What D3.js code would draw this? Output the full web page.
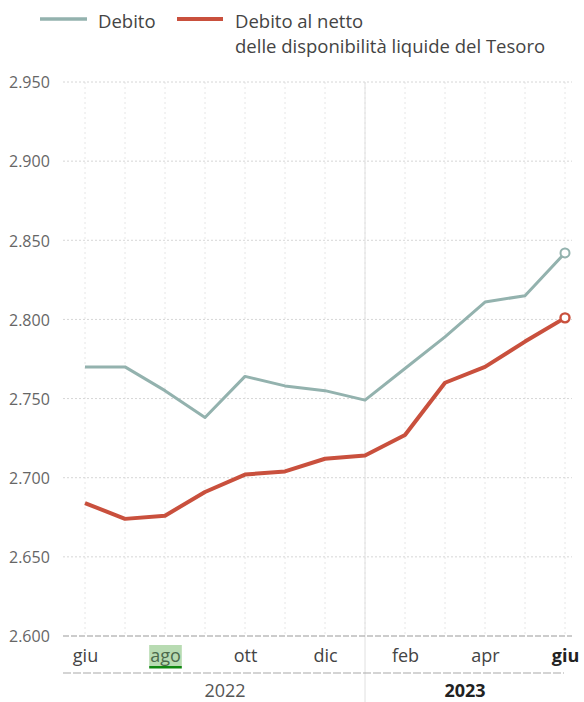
<!DOCTYPE html>
<html><head><meta charset="utf-8">
<script src="https://cdn.jsdelivr.net/npm/d3@7"></script>
<style>
html,body{margin:0;padding:0;background:#fff;}
svg{display:block;font-family:"Open Sans",sans-serif;}
</style></head>
<body><svg id="c" width="584" height="702"></svg>
<script>
// ---- data ----
const monthKeys = ["2022-06","2022-07","2022-08","2022-09","2022-10","2022-11","2022-12","2023-01","2023-02","2023-03","2023-04","2023-05","2023-06"];
const monthLabels = ["giu","lug","ago","set","ott","nov","dic","gen","feb","mar","apr","mag","giu"];
const labelledKeys = ["2022-06","2022-08","2022-10","2022-12","2023-02","2023-04","2023-06"];
const debito = [2770, 2770, 2755, 2738, 2764, 2758, 2755, 2749, 2769, 2789, 2811, 2815, 2842];
const debitoNetto = [2684, 2674, 2676, 2691, 2702, 2704, 2712, 2714, 2727, 2760, 2770, 2786, 2801];
const yTicks = [2600, 2650, 2700, 2750, 2800, 2850, 2900, 2950];
const years = [{label:"2022", from:"2022-06", to:"2023-01", bold:false},{label:"2023", from:"2023-01", to:"2023-06", bold:true}];
const legendItems = ["Debito", ["Debito al netto","delle disponibilità liquide del Tesoro"]];

const colBlue = "#93b2ae", colRed = "#c9503d";
const svg = d3.select("#c");
const it = d3.formatLocale({decimal:",",thousands:".",grouping:[3],currency:["€",""]});
const fmt = it.format(",d");

const x = d3.scalePoint().domain(monthKeys).range([85, 565]);
const y = d3.scaleLinear().domain([2600, 2950]).range([636, 82]);
const left = 63, right = 572;

// vertical grid
svg.append("g").selectAll("line").data(monthKeys).join("line")
  .attr("x1", d=>x(d)).attr("x2", d=>x(d)).attr("y1", y(2950)).attr("y2", y(2600))
  .attr("stroke", "#e6e6e6").attr("stroke-width", 1).attr("stroke-dasharray", "2,3");
// horizontal grid
svg.append("g").selectAll("line").data(yTicks.filter(d=>d>2600)).join("line")
  .attr("x1", left).attr("x2", right).attr("y1", d=>y(d)).attr("y2", d=>y(d))
  .attr("stroke", "#d6d6d6").attr("stroke-width", 1).attr("stroke-dasharray", "2,2");
// year separator
svg.append("line").attr("x1", x("2023-01")).attr("x2", x("2023-01")).attr("y1", y(2950)).attr("y2", 702)
  .attr("stroke", "#e0e0e0").attr("stroke-width", 1);
// baseline
svg.append("line").attr("x1", left).attr("x2", right).attr("y1", y(2600)).attr("y2", y(2600))
  .attr("stroke", "#9a9a9a").attr("stroke-width", 1.2).attr("stroke-dasharray", "6,2");
svg.append("line").attr("x1", left).attr("x2", 564).attr("y1", 673).attr("y2", 673)
  .attr("stroke", "#aaaaaa").attr("stroke-width", 1.2).attr("stroke-dasharray", "8,2");

// y axis labels
const yAxis = d3.axisLeft(y).tickValues(yTicks).tickFormat(fmt).tickSize(0).tickPadding(0);
const gy = svg.append("g").attr("transform", "translate(9,0)").call(yAxis);
gy.select(".domain").remove();
gy.selectAll("text").attr("text-anchor", "start").attr("x", 0)
  .attr("font-size", 16).attr("font-family", "Open Sans, sans-serif").attr("fill", "#666").attr("dy", "0.36em");

// x axis labels
const xAxis = d3.axisBottom(x).tickValues(labelledKeys).tickFormat(d=>monthLabels[monthKeys.indexOf(d)]).tickSize(0).tickPadding(0);
const gx = svg.append("g").attr("transform", "translate(0,662)").call(xAxis);
gx.select(".domain").remove();
gx.selectAll("text").attr("dy", 0).attr("y", 0).attr("font-size", 18).attr("font-family", "Open Sans, sans-serif")
  .attr("font-weight", (d,i)=> i===labelledKeys.length-1 ? "bold" : "normal")
  .attr("fill", (d,i)=> i===labelledKeys.length-1 ? "#222" : "#444");
// highlight on "ago"
gx.selectAll(".tick").filter(d=>d==="2022-08").each(function(){
  const t = d3.select(this).select("text");
  const bb = t.node().getBBox();
  d3.select(this).insert("rect","text").attr("x", bb.x-1).attr("y", bb.y+2).attr("width", bb.width+2).attr("height", bb.height-3).attr("fill", "#b8dbb2");
  d3.select(this).insert("rect","text").attr("x", bb.x-1).attr("y", bb.y+bb.height-1).attr("width", bb.width+2).attr("height", 2.5).attr("fill", "#118811");
  t.attr("fill", "#4c6a4c");
});

// year labels
svg.append("g").selectAll("text").data(years).join("text")
  .attr("x", d=>(x(d.from)+x(d.to))/2).attr("y", 697).attr("text-anchor", "middle")
  .attr("font-size", 18).attr("font-weight", d=>d.bold?"bold":"normal").attr("fill", d=>d.bold?"#222":"#555")
  .text(d=>d.label);

// lines
const line = d3.line().x((d,i)=>x(monthKeys[i])).y(d=>y(d));
svg.append("path").datum(debito).attr("d", line).attr("fill","none").attr("stroke", colBlue).attr("stroke-width", 3).attr("stroke-linejoin","round");
svg.append("path").datum(debitoNetto).attr("d", line).attr("fill","none").attr("stroke", colRed).attr("stroke-width", 4).attr("stroke-linejoin","round");
const last = monthKeys.length-1;
svg.append("circle").attr("cx", x(monthKeys[last])).attr("cy", y(debito[last])).attr("r", 4.5).attr("fill","#fff").attr("stroke", colBlue).attr("stroke-width", 2);
svg.append("circle").attr("cx", x(monthKeys[last])).attr("cy", y(debitoNetto[last])).attr("r", 4.5).attr("fill","#fff").attr("stroke", colRed).attr("stroke-width", 2.4);

// legend
const lg = svg.append("g").attr("font-size", 18.5).attr("fill", "#444");
lg.append("line").attr("x1", 40).attr("x2", 87).attr("y1", 19).attr("y2", 19).attr("stroke", colBlue).attr("stroke-width", 3.5);
lg.append("text").attr("x", 98).attr("y", 28).text(legendItems[0]);
lg.append("line").attr("x1", 177).attr("x2", 223).attr("y1", 19).attr("y2", 19).attr("stroke", colRed).attr("stroke-width", 4);
lg.append("text").attr("x", 235).attr("y", 28).text(legendItems[1][0]);
lg.append("text").attr("x", 235).attr("y", 53).text(legendItems[1][1]);
</script></body></html>
